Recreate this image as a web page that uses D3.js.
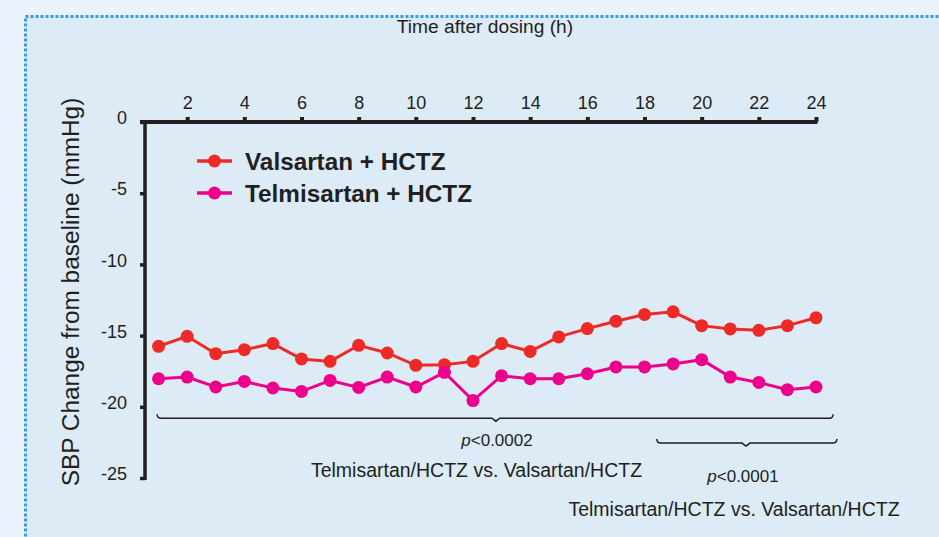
<!DOCTYPE html>
<html>
<head>
<meta charset="utf-8">
<script src="https://cdn.jsdelivr.net/npm/d3@7"></script>
<style>
  html, body { margin: 0; padding: 0; background: #EAF3FB; }
  svg { display: block; font-family: "Liberation Sans", Arial, sans-serif; }
</style>
</head>
<body>
<svg id="chart" width="939" height="537"></svg>
<script>
// ---- data ----
const hours = [1,2,3,4,5,6,7,8,9,10,11,12,13,14,15,16,17,18,19,20,21,22,23,24];
const valsartan = [-15.75,-15.05,-16.27,-15.99,-15.56,-16.64,-16.81,-15.68,-16.22,-17.09,-17.04,-16.81,
                   -15.56,-16.11,-15.09,-14.51,-13.99,-13.52,-13.33,-14.30,-14.53,-14.63,-14.30,-13.75];
const telmisartan = [-18.03,-17.91,-18.61,-18.22,-18.68,-18.92,-18.15,-18.64,-17.91,-18.61,-17.58,-19.56,
                     -17.82,-18.03,-18.03,-17.68,-17.20,-17.20,-16.99,-16.69,-17.91,-18.29,-18.80,-18.61];
const seriesNames = ["Valsartan + HCTZ", "Telmisartan + HCTZ"];
const seriesColors = ["#EE2A26", "#EC008C"];
const xTicks = [2,4,6,8,10,12,14,16,18,20,22,24];
const yTicks = [0,-5,-10,-15,-20,-25];

const svg = d3.select("#chart");
const ink = "#231F20";

// panel
svg.append("rect").attr("x", 25.5).attr("y", 16.5).attr("width", 960).attr("height", 560)
  .attr("fill", "#DCEBF6").attr("stroke", "#3A9EDD").attr("stroke-width", 3)
  .attr("stroke-dasharray", "3,2");

// scales
const x = d3.scaleLinear().domain([0, 24]).range([130, 816]);
const y = d3.scaleLinear().domain([0, -25]).range([122, 478]);

// top x axis
const gx = svg.append("g").attr("transform", `translate(0,${y(0)})`)
  .call(d3.axisTop(x).tickValues(xTicks).tickSize(5).tickPadding(8).tickSizeOuter(0));
gx.select(".domain").attr("d", `M${x(0.35)},0H${x(24) + 1.5}`).attr("stroke", ink).attr("stroke-width", 4);
gx.selectAll(".tick line").attr("stroke", ink).attr("stroke-width", 4);
gx.selectAll(".tick text").attr("fill", ink).style("font-size", "18px")
  .style("font-family", "'Liberation Sans', Arial, sans-serif");

// left y axis
const gy = svg.append("g").attr("transform", `translate(145,0)`)
  .call(d3.axisLeft(y).tickValues(yTicks).tickSize(5).tickPadding(13).tickSizeOuter(0)
        .tickFormat(d => d === 0 ? "0" : String(d)));
gy.select(".domain").attr("d", `M0,${y(0) - 1}V${y(-25) + 2}`).attr("stroke", ink).attr("stroke-width", 3.5);
gy.selectAll(".tick line").attr("stroke", ink).attr("stroke-width", 3.5);
gy.selectAll(".tick text").attr("fill", ink).style("font-size", "18px")
  .style("font-family", "'Liberation Sans', Arial, sans-serif")
  .attr("transform", "translate(0,-4)");

// axis titles
svg.append("text").attr("x", 485).attr("y", 33).attr("text-anchor", "middle")
  .attr("fill", ink).style("font-size", "19.2px").text("Time after dosing (h)");
svg.append("text").attr("transform", "translate(79,292) rotate(-90)").attr("text-anchor", "middle")
  .attr("fill", ink).style("font-size", "24.4px").text("SBP Change from baseline (mmHg)");

// series
const allSeries = [valsartan, telmisartan];
const line = d3.line().x((d, i) => x(hours[i])).y(d => y(d));
allSeries.forEach((vals, si) => {
  const g = svg.append("g");
  g.append("path").datum(vals).attr("d", line).attr("fill", "none")
    .attr("stroke", seriesColors[si]).attr("stroke-width", 3);
  g.selectAll("circle").data(vals).join("circle")
    .attr("cx", (d, i) => x(hours[i])).attr("cy", d => y(d)).attr("r", 6.5)
    .attr("fill", seriesColors[si]);
});

// legend
seriesNames.forEach((name, i) => {
  const ly = 161 + i * 32;
  svg.append("line").attr("x1", 197).attr("x2", 232).attr("y1", ly).attr("y2", ly)
    .attr("stroke", seriesColors[i]).attr("stroke-width", 3.5);
  svg.append("circle").attr("cx", 214.5).attr("cy", ly).attr("r", 6.5).attr("fill", seriesColors[i]);
  svg.append("text").attr("x", 245).attr("y", ly + 8.5).attr("fill", ink)
    .style("font-size", "24.3px").style("font-weight", "bold").text(name);
});

// braces
function brace(x1, x2, yy, cx) {
  return `M${x1},${yy - 4} Q${x1},${yy} ${x1 + 4},${yy} H${cx - 4} L${cx},${yy + 3} L${cx + 4},${yy} H${x2 - 4} Q${x2},${yy} ${x2},${yy - 4}`;
}
svg.append("path").attr("d", brace(x(0.95), x(24.6), y(-20.8), x(12.8)))
  .attr("fill", "none").attr("stroke", ink).attr("stroke-width", 1.5);
svg.append("path").attr("d", brace(x(18.43), x(24.73), y(-22.55), x(21.55)))
  .attr("fill", "none").attr("stroke", ink).attr("stroke-width", 1.5);

// annotation texts
function pText(cx, by, val) {
  const t = svg.append("text").attr("x", cx).attr("y", by).attr("text-anchor", "middle")
    .attr("fill", ink).style("font-size", "17px");
  t.append("tspan").style("font-style", "italic").text("p");
  t.append("tspan").text(val);
}
pText(497, 446, "<0.0002");
pText(743, 482, "<0.0001");
svg.append("text").attr("x", 476.5).attr("y", 477).attr("text-anchor", "middle")
  .attr("fill", ink).style("font-size", "19.5px").text("Telmisartan/HCTZ vs. Valsartan/HCTZ");
svg.append("text").attr("x", 734).attr("y", 516).attr("text-anchor", "middle")
  .attr("fill", ink).style("font-size", "19.5px").text("Telmisartan/HCTZ vs. Valsartan/HCTZ");
</script>
</body>
</html>
